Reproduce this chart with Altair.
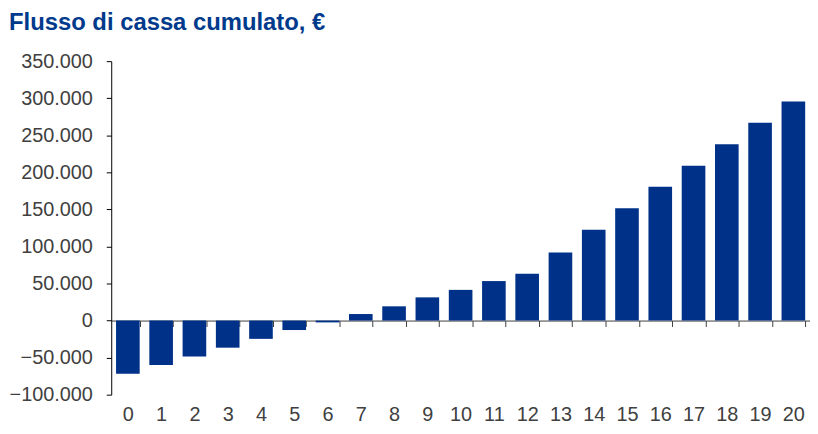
import altair as alt
import pandas as pd

# Data
anni = list(range(21))
flusso = [-71700, -59800, -48400, -36600, -24700, -12800, -2500, 8800, 19200,
          31300, 41400, 53300, 63000, 92000, 122400, 151500, 180500, 209000,
          238000, 266800, 295500]
y_ticks = [-100000, -50000, 0, 50000, 100000, 150000, 200000, 250000, 300000, 350000]
titolo = "Flusso di cassa cumulato, €"

Y_MIN, Y_MAX = -100000, 350000
W = 704
H = 336
zero_from_bottom = H * (0 - Y_MIN) / (Y_MAX - Y_MIN)
FONT = "Liberation Sans"
BLUE = "#003189"
GREY = "#404040"

df = pd.DataFrame({"anno": anni, "flusso": flusso})

chart = alt.Chart(df).mark_bar(color=BLUE).encode(
    x=alt.X(
        "anno:O",
        scale=alt.Scale(paddingInner=0.29, paddingOuter=0.145),
        axis=alt.Axis(
            title=None, labelAngle=0, offset=-zero_from_bottom,
            tickBand="extent", domainColor=GREY, tickColor=GREY,
            tickSize=6, labelPadding=zero_from_bottom + 10 - 6,
            labelFont=FONT, labelFontSize=20, labelColor=GREY,
        ),
    ),
    y=alt.Y(
        "flusso:Q",
        scale=alt.Scale(domain=[Y_MIN, Y_MAX], nice=False),
        axis=alt.Axis(
            title=None, values=y_ticks, grid=False,
            labelExpr="replace(format(datum.value, ','), ',', '.')",
            tickSize=5, labelPadding=14, domainColor="#000000",
            tickColor="#000000", labelFont=FONT, labelFontSize=20,
            labelColor=GREY,
        ),
    ),
).properties(
    width=W,
    height=H,
    padding={"left": 1, "top": 2, "right": 0, "bottom": 0},
    title=alt.TitleParams(
        text=titolo, anchor="start", frame="bounds", font=FONT,
        fontSize=24, fontWeight="bold", color="#003A8C", offset=16,
    ),
).configure_view(stroke=None)

chart.save("out.html", embed_options={"renderer": "svg", "actions": False})
